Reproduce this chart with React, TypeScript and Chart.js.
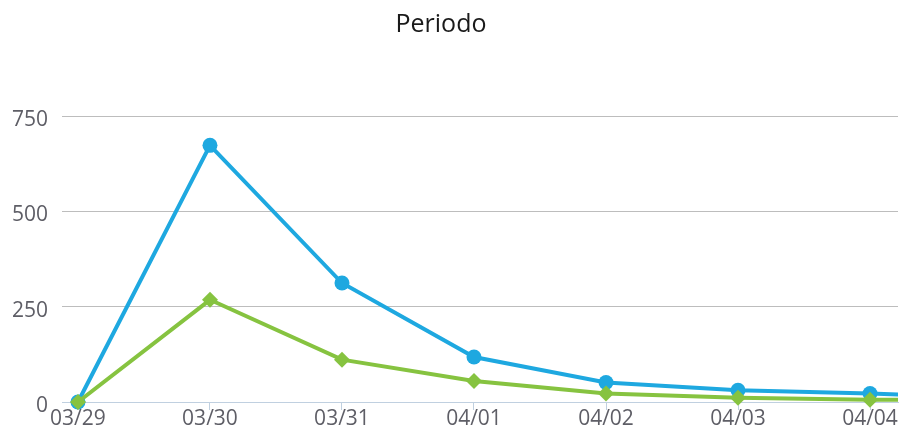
import { useEffect, useRef } from "react";
import { Chart, registerables } from "chart.js";

Chart.register(...registerables);

const categories = ["03/29", "03/30", "03/31", "04/01", "04/02", "04/03", "04/04", "04/05"];
const blueValues = [0, 673, 312, 118, 51, 31, 22, 11];
const greenValues = [0, 268, 111, 55, 22, 11, 6, 5];
const yTicks = [0, 250, 500, 750];
const titleText = "Periodo";

const BLUE = "#1ea8e0";
const GREEN = "#86c340";
const LABEL_COLOR = "#5e5e66";
const tickFont = { family: "'Open Sans', sans-serif", size: 21 };

export default function App() {
  const ref = useRef<HTMLCanvasElement>(null);

  useEffect(() => {
    document.body.style.margin = "0";
    const canvas = ref.current;
    if (!canvas) return;
    const clipSides = { left: false, top: false, right: 0, bottom: false };
    const chart = new Chart(canvas, {
      type: "line",
      data: {
        datasets: [
          {
            label: "green",
            data: greenValues.map((v, i) => ({ x: i, y: v })),
            borderColor: GREEN,
            backgroundColor: GREEN,
            pointBackgroundColor: GREEN,
            pointBorderColor: GREEN,
            pointStyle: "rectRot",
            pointRadius: 8,
            pointBorderWidth: 0,
            borderWidth: 4,
            tension: 0,
            clip: clipSides as any,
          },
          {
            label: "blue",
            data: blueValues.map((v, i) => ({ x: i, y: v })),
            borderColor: BLUE,
            backgroundColor: BLUE,
            pointBackgroundColor: BLUE,
            pointBorderColor: BLUE,
            pointStyle: "circle",
            pointRadius: 7.5,
            pointBorderWidth: 0,
            borderWidth: 4,
            tension: 0,
            clip: clipSides as any,
          },
        ],
      },
      options: {
        animation: false,
        responsive: false,
        layout: { padding: { top: 116, left: 0, right: 0, bottom: 0 } },
        plugins: {
          legend: { display: false },
          tooltip: { enabled: false },
          title: { display: false },
        },
        scales: {
          x: {
            type: "linear",
            min: -0.121,
            max: 6.212,
            afterBuildTicks: (s: any) => {
              s.ticks = categories
                .map((_, i) => ({ value: i }))
                .filter((t) => t.value <= s.max);
            },
            afterFit: (s: any) => {
              s.height = 30;
              s.paddingLeft = 0;
              s.paddingRight = 0;
            },
            ticks: {
              callback: (v: any) => categories[v as number] ?? "",
              font: tickFont,
              color: LABEL_COLOR,
              padding: -4,
              maxRotation: 0,
              autoSkip: false,
            },
            grid: {
              drawOnChartArea: false,
              drawTicks: true,
              tickLength: 8,
              color: "#c0d0e0",
            },
            border: { display: true, color: "#c0d0e0", width: 1 },
          },
          y: {
            min: 0,
            max: 750,
            afterBuildTicks: (s: any) => {
              s.ticks = yTicks.map((v) => ({ value: v }));
            },
            afterFit: (s: any) => {
              s.width = 62;
            },
            ticks: {
              font: tickFont,
              color: LABEL_COLOR,
              padding: 14,
              labelOffset: 4,
            },
            grid: { color: "#bdbdbd", drawTicks: false, lineWidth: 1 },
            border: { display: false },
          },
        },
      },
    });
    return () => chart.destroy();
  }, []);

  return (
    <div style={{ position: "relative", width: 903, height: 432, overflow: "hidden" }}>
      <div
        style={{
          position: "absolute",
          top: 5,
          left: 0,
          width: 882,
          textAlign: "center",
          fontFamily: "'Open Sans', sans-serif",
          fontSize: 25,
          color: "#1a1a1a",
        }}
      >
        {titleText}
      </div>
      <canvas ref={ref} width={906} height={432} style={{ display: "block" }} />
    </div>
  );
}
